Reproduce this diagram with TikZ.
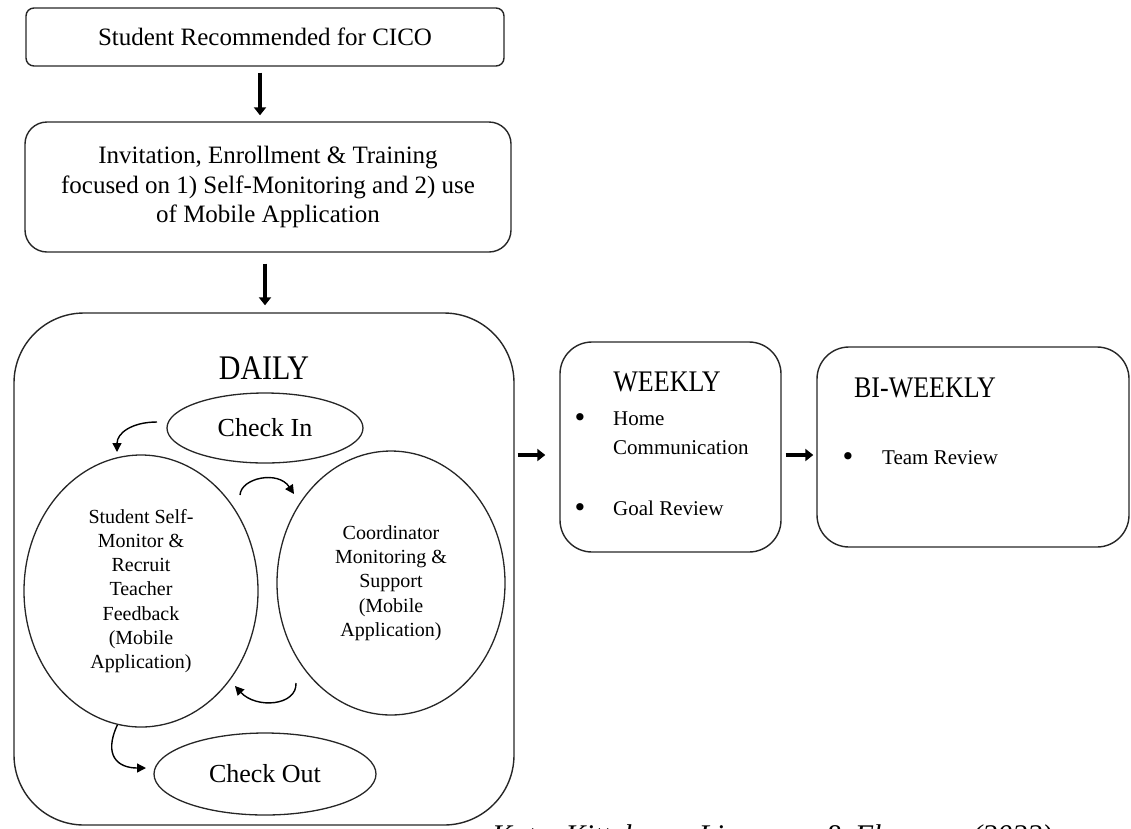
\documentclass[tikz,border=0pt]{standalone}
\usepackage{fontspec}
\setmainfont{Liberation Serif}
\newfontfamily\bulletfont{DejaVu Sans}
\usetikzlibrary{shapes.geometric,arrows.meta}
\begin{document}
\begin{tikzpicture}[x=1pt,y=-1pt,
  box/.style={draw=black!85,line width=1.4pt,rectangle,inner sep=0pt,align=center},
  oval/.style={draw=black!85,line width=1.3pt,ellipse,inner sep=0pt,align=center},
  bigarrow/.style={line width=4pt,-{Triangle[length=8pt,width=12pt]}},
  curvearrow/.style={line width=1.4pt,-{Triangle[length=9pt,width=9pt]}},
  fbig/.style={font=\fontsize{25}{29.5}\selectfont},
  ftitle/.style={font=\fontsize{26}{30}\selectfont},
  fsmall/.style={font=\fontsize{20}{24.2}\selectfont},
  fbul/.style={font=\fontsize{21}{29}\selectfont},
  bul/.style={font=\bulletfont\fontsize{25}{28}\selectfont,inner sep=0pt}
]
\useasboundingbox (0,0) rectangle (1131,828);
\clip (0,0) rectangle (1131,828);

% top boxes
\node[box,fbig,rounded corners=8pt,minimum width=478pt,minimum height=58pt] (rec) at (265,37) {Student Recommended for CICO};
\node[box,fbig,rounded corners=22pt,minimum width=486pt,minimum height=130pt] (inv) at (268,187)
  {Invitation, Enrollment \& Training\\focused on 1) Self-Monitoring and 2) use\\of Mobile Application};

% daily
\node[box,rounded corners=70pt,minimum width=500pt,minimum height=512pt] (daily) at (264,569) {};
\node[font=\fontsize{30}{32}\selectfont,inner sep=0pt] (dtitle) at (264,368) {\scalebox{1}[1.15]{DAILY}};
\node[oval,font=\fontsize{26}{30}\selectfont,minimum width=196pt,minimum height=70pt] (ci) at (265,428) {Check In};
\node[oval,fsmall,minimum width=234pt,minimum height=272pt] (sm) at (141,591)
  {Student Self-\\Monitor \&\\Recruit\\Teacher\\Feedback\\(Mobile\\Application)};
\node[oval,fsmall,minimum width=228pt,minimum height=264pt] (cm) at (391,583)
  {Coordinator\\Monitoring \&\\Support\\(Mobile\\Application)};
\node[oval,font=\fontsize{26}{30}\selectfont,minimum width=222pt,minimum height=82pt] (co) at (265,774) {Check Out};

% weekly
\node[box,rounded corners=32pt,minimum width=221pt,minimum height=210pt] (weekly) at (670.5,447) {};
\node[ftitle,inner sep=0pt] (wtitle) at (667,382) {\scalebox{1}[1.15]{WEEKLY}};
\node[bul] (wb1) at (580,420) {•};
\node[fbul,inner sep=0pt,anchor=west,align=left] (wt1) at (613,433) {Home\\Communication};
\node[bul] (wb2) at (580,510) {•};
\node[fbul,inner sep=0pt,anchor=west] (wt2) at (613,508) {Goal Review};

% bi-weekly
\node[box,rounded corners=32pt,minimum width=312pt,minimum height=200pt] (biweekly) at (973,447) {};
\node[ftitle,inner sep=0pt] (btitle) at (925,388) {\scalebox{1}[1.15]{BI-WEEKLY}};
\node[bul] (bb1) at (848,459) {•};
\node[fbul,inner sep=0pt,anchor=west] (bt1) at (882,458) {Team Review};

% citation (cut off at the bottom edge, as in the source)
\node[font=\fontsize{30}{32}\selectfont\itshape,inner sep=0pt,anchor=base west] (cite) at (492,845)
  {Kotu, Kittelman, Liaupsyn, \& Flannery (2022)};

% straight arrows
\coordinate (v1) at (260,0);
\coordinate (v2) at (265,0);
\coordinate (h) at (0,455);
\draw[bigarrow,shorten <=6pt,shorten >=6pt] (rec.south -| v1) -- (inv.north -| v1);
\draw[bigarrow,shorten <=11pt,shorten >=7pt] (inv.south -| v2) -- (daily.north -| v2);
\draw[bigarrow,shorten <=3pt,shorten >=14pt] (daily.east |- h) -- (weekly.west |- h);
\draw[bigarrow,shorten <=4pt,shorten >=3pt] (weekly.east |- h) -- (biweekly.west |- h);

% curved arrows in daily
\coordinate (a1s) at (157,422);
\coordinate (a1e) at (117,452);
\coordinate (a2s) at (240,495);
\coordinate (a2e) at (294,494);
\coordinate (a3s) at (296,683);
\coordinate (a3e) at (235,686);
\coordinate (a4e) at (146,768);
\draw[curvearrow] (a1s) .. controls (132,422) and (117,433) .. (a1e);
\draw[curvearrow] (a2s) .. controls (241,478) and (278,470) .. (a2e);
\draw[curvearrow] (a3s) .. controls (297,706) and (256,709) .. (a3e);
\draw[curvearrow] (sm.260) .. controls (103,756) and (118,768) .. (a4e);
\end{tikzpicture}
\end{document}
